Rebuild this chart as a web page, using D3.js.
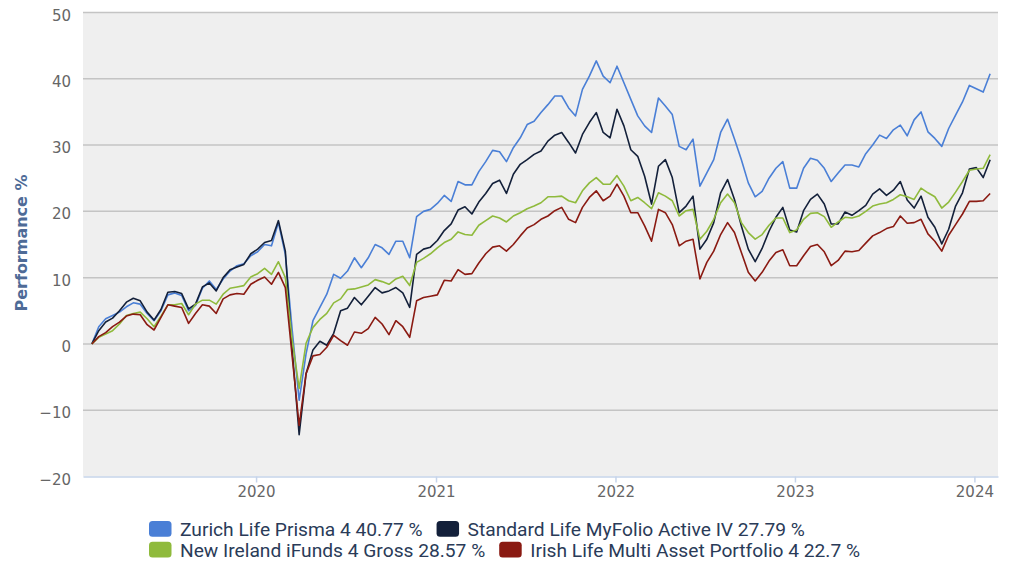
<!DOCTYPE html>
<html>
<head>
<meta charset="utf-8">
<script src="https://cdn.jsdelivr.net/npm/d3@7"></script>
<style>
  html, body { margin: 0; padding: 0; background: #fff; }
  svg { display: block; }
</style>
</head>
<body>
<svg id="chart" width="1024" height="584"></svg>
<script>
// data: fortnightly readings, Feb 2019 -> Feb 2024, cumulative performance %
const startDate = new Date(2019, 1, 1);
const endDate = new Date(2024, 1, 2);

const zurich = [
  0, 2.6, 3.8, 4.3, 4.8, 5.6, 6.2, 6.0, 4.6, 3.5,
  5.0, 7.4, 7.7, 7.3, 5.0, 5.8, 8.4, 9.5, 8.2, 9.8,
  11.0, 11.8, 12.1, 13.3, 13.9, 15.0, 14.8, 18.3, 13.5, 2.0,
  -8.5, -1.5, 3.5, 5.5, 7.5, 10.5, 9.9, 11.0, 13.0, 11.5,
  13.0, 15.0, 14.5, 13.5, 15.5, 15.5, 13.0, 19.2, 20.0, 20.3,
  21.2, 22.4, 21.5, 24.5, 24.0, 24.0, 26.0, 27.5, 29.2, 29.0,
  27.5, 29.6, 31.1, 33.1, 33.6, 34.9, 36.1, 37.4, 37.4, 35.6,
  34.4, 38.4, 40.4, 42.7, 40.4, 39.4, 41.9, 39.4, 36.9, 34.4,
  32.9, 31.9, 37.1, 35.9, 34.6, 29.8, 29.3, 30.9, 23.8, 25.8,
  27.8, 31.9, 33.9, 30.9, 27.8, 24.3, 22.2, 23.0, 25.0, 26.5,
  27.5, 23.5, 23.5, 26.5, 28.0, 27.7, 26.5, 24.5, 25.8, 27.0,
  27.0, 26.7, 28.7, 30.0, 31.5, 31.0, 32.3, 33.0, 31.4, 33.8,
  35.0, 32.0, 31.0, 29.8, 32.5, 34.5, 36.5, 39.0, 38.5, 38.0,
  40.77
];

const standardLife = [
  0, 2.0, 3.3, 3.9, 5.0, 6.3, 6.9, 6.5, 4.8, 3.6,
  5.2, 7.8, 7.9, 7.6, 5.3, 6.0, 8.6, 9.2, 8.0, 10.0,
  11.2, 11.6, 12.0, 13.6, 14.3, 15.3, 15.6, 18.6, 14.0, -1.0,
  -13.7, -4.5, -0.9, 0.4, -0.2, 1.6, 5.0, 5.4, 7.0, 5.9,
  7.2, 8.5, 7.7, 8.0, 8.5, 7.7, 5.5, 13.5, 14.3, 14.6,
  15.6, 17.1, 18.1, 20.2, 20.7, 19.6, 21.4, 22.7, 24.2, 24.7,
  22.7, 25.6, 27.1, 27.8, 28.6, 29.1, 30.6, 31.5, 31.9, 30.4,
  28.8, 31.6, 33.4, 34.9, 31.9, 31.1, 35.4, 32.9, 29.3, 28.3,
  25.3, 21.1, 26.8, 27.8, 25.1, 19.8, 20.8, 22.3, 14.3, 15.8,
  18.3, 22.8, 24.8, 21.8, 17.8, 14.3, 12.4, 14.4, 17.0, 19.1,
  20.6, 17.2, 16.9, 20.1, 21.8, 22.6, 21.1, 18.1, 18.1, 19.9,
  19.4, 20.1, 20.9, 22.6, 23.4, 22.4, 23.2, 24.5, 21.7, 20.5,
  22.3, 19.1, 17.6, 15.1, 17.3, 20.8, 22.8, 26.4, 26.6, 25.1,
  27.79
];

const newIreland = [
  0, 1.0, 1.5, 2.0, 3.0, 4.3, 4.6, 4.8, 3.8, 2.6,
  4.2, 5.9, 5.9, 6.1, 4.4, 6.0, 6.6, 6.6, 6.0, 7.5,
  8.4, 8.6, 8.8, 10.1, 10.6, 11.4, 10.5, 12.4, 10.0, 0.5,
  -6.7, 0.1, 2.5, 3.7, 4.6, 6.2, 6.8, 8.2, 8.3, 8.6,
  8.9, 9.7, 9.4, 9.0, 9.8, 10.2, 8.8, 12.3, 12.9, 13.6,
  14.5, 15.3, 15.8, 16.9, 16.5, 16.4, 17.9, 18.6, 19.3, 19.0,
  18.4, 19.3, 19.8, 20.4, 20.8, 21.3, 22.2, 22.2, 22.3, 21.6,
  21.3, 23.1, 24.3, 25.1, 24.1, 24.1, 25.4, 23.8, 21.6, 22.1,
  21.3, 20.4, 22.8, 22.3, 21.6, 19.3, 20.1, 20.3, 15.8, 17.0,
  18.8, 21.3, 22.6, 21.3, 18.3, 16.8, 15.8, 16.5, 17.9, 19.0,
  19.0, 16.8, 17.2, 18.8, 19.7, 19.8, 19.2, 17.6, 18.4, 19.1,
  19.0, 19.3, 20.0, 20.8, 21.1, 21.3, 21.8, 22.5, 22.2, 21.8,
  23.5, 22.8, 22.2, 20.5, 21.4, 22.9, 24.5, 26.2, 26.4, 26.5,
  28.57
];

const irishLife = [
  0, 1.1, 1.7, 2.6, 3.3, 4.2, 4.5, 4.4, 2.9, 2.1,
  4.0, 5.9, 5.7, 5.5, 3.1, 4.6, 5.9, 5.7, 4.6, 6.8,
  7.4, 7.6, 7.5, 9.0, 9.6, 10.1, 9.0, 10.8, 8.5, -2.0,
  -12.3, -4.5, -1.8, -1.6, -0.5, 1.3, 0.5, -0.2, 1.8, 1.6,
  2.3, 4.0, 3.0, 1.4, 3.5, 2.6, 1.0, 6.5, 7.0, 7.2,
  7.4, 9.6, 9.5, 11.2, 10.5, 10.6, 12.2, 13.6, 14.6, 14.8,
  14.0, 15.0, 16.3, 17.5, 18.0, 18.8, 19.3, 20.1, 20.6, 18.8,
  18.3, 20.6, 22.1, 23.1, 21.6, 22.3, 24.1, 22.3, 19.8, 19.8,
  17.8, 15.5, 20.3, 19.8, 18.0, 14.8, 15.5, 15.8, 9.8, 12.3,
  14.0, 16.5, 18.3, 16.8, 13.8, 10.8, 9.5, 10.8, 12.5, 13.8,
  14.2, 11.8, 11.8, 13.3, 14.7, 15.0, 13.9, 11.8, 12.6, 14.0,
  13.9, 14.1, 15.2, 16.3, 16.8, 17.4, 17.7, 19.3, 18.2, 18.3,
  18.8, 16.6, 15.5, 14.0, 16.4, 18.0, 19.6, 21.5, 21.5, 21.6,
  22.7
];

const seriesNames = [
  'Zurich Life Prisma 4 40.77 %',
  'Standard Life MyFolio Active IV 27.79 %',
  'New Ireland iFunds 4 Gross 28.57 %',
  'Irish Life Multi Asset Portfolio 4 22.7 %'
];
const seriesColors = ['#4a7fd6', '#13203a', '#8fba3c', '#8a1a12'];
const seriesValues = [zurich, standardLife, newIreland, irishLife];

const yTicks = [-20, -10, 0, 10, 20, 30, 40, 50];
const xTickYears = [2020, 2021, 2022, 2023, 2024];

// dates evenly spaced between first and last reading
const n = zurich.length;
const dates = d3.range(n).map(i => new Date(+startDate + i * (endDate - startDate) / (n - 1)));

const svg = d3.select('#chart');
const plot = { left: 83, right: 998, top: 12.5, bottom: 476.5 };

const x = d3.scaleTime()
  .domain([new Date(2019, 0, 14), new Date(2024, 1, 18)])
  .range([plot.left, plot.right]);
const y = d3.scaleLinear()
  .domain([-20, 50])
  .range([plot.bottom, plot.top]);

// plot background
svg.append('rect')
  .attr('x', plot.left).attr('y', plot.top)
  .attr('width', plot.right - plot.left)
  .attr('height', plot.bottom - plot.top)
  .attr('fill', '#efefef');

// grid lines
svg.append('g').selectAll('line')
  .data(yTicks.filter(v => v > -20))
  .join('line')
  .attr('x1', plot.left).attr('x2', plot.right)
  .attr('y1', d => y(d)).attr('y2', d => y(d))
  .attr('stroke', '#c4c4c4')
  .attr('stroke-width', 1.5);

// y axis labels
const fmt = d => d < 0 ? '\u2212' + Math.abs(d) : String(d);
const yAxis = svg.append('g')
  .attr('transform', `translate(${plot.left},0)`)
  .call(d3.axisLeft(y).tickValues(yTicks).tickFormat(fmt).tickSize(0).tickPadding(12));
yAxis.select('.domain').remove();
yAxis.selectAll('text')
  .attr('dy', '0.5em')
  .attr('fill', '#666')
  .style('font-family', '"DejaVu Sans", sans-serif')
  .style('font-size', '15px');

// x axis
const xAxis = svg.append('g')
  .attr('transform', `translate(0,${plot.bottom})`)
  .call(d3.axisBottom(x)
    .tickValues(xTickYears.map(yr => new Date(yr, 0, 1)))
    .tickFormat(d3.timeFormat('%Y'))
    .tickSize(6).tickSizeOuter(0).tickPadding(3.5));
xAxis.select('.domain').attr('stroke', '#c6d4ea').attr('stroke-width', 1.5);
xAxis.selectAll('.tick line').attr('stroke', '#c6d4ea').attr('stroke-width', 1.5);
xAxis.selectAll('text')
  .attr('fill', '#666')
  .style('font-family', '"DejaVu Sans", sans-serif')
  .style('font-size', '15px');

// y axis title
svg.append('text')
  .attr('transform', 'translate(26.5,243) rotate(-90)')
  .attr('text-anchor', 'middle')
  .attr('fill', '#4e6b97')
  .style('font-family', '"DejaVu Sans", sans-serif')
  .style('font-weight', 'bold')
  .style('font-size', '16px')
  .text('Performance %');

// series lines
const line = d3.line()
  .x((d, i) => x(dates[i]))
  .y(d => y(d));

svg.append('g').selectAll('path')
  .data(seriesValues)
  .join('path')
  .attr('d', d => line(d))
  .attr('fill', 'none')
  .attr('stroke', (d, i) => seriesColors[i])
  .attr('stroke-width', 1.6)
  .attr('stroke-linejoin', 'round');

// legend, two rows of two items
const legend = svg.append('g');
const rows = [[0, 1], [2, 3]];
rows.forEach((row, r) => {
  let lx = 149;
  const ly = 521 + r * 20.8;
  row.forEach(k => {
    legend.append('rect')
      .attr('x', lx).attr('y', ly)
      .attr('width', 22.5).attr('height', 15.7)
      .attr('rx', 3.5)
      .attr('fill', seriesColors[k]);
    const t = legend.append('text')
      .attr('x', lx + 31)
      .attr('y', ly + 15.3)
      .attr('fill', '#2a3b58')
      .style('font-family', 'Roboto, "Noto Sans", sans-serif')
      .style('font-size', '19.2px')
      .text(seriesNames[k]);
    const w = t.node().getComputedTextLength();
    lx += 31 + w + 14;
  });
});
</script>
</body>
</html>
